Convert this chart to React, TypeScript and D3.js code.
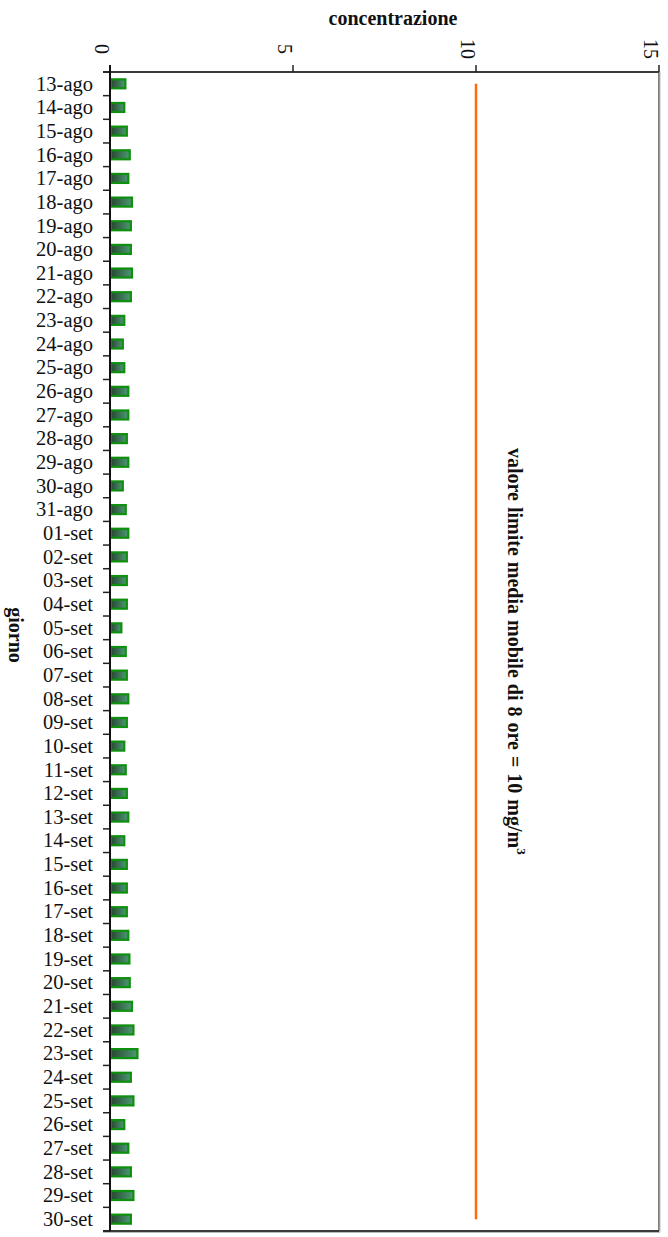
import React from "react";
import * as d3 from "d3";

const days: string[] = [
  "13-ago", "14-ago", "15-ago", "16-ago", "17-ago", "18-ago", "19-ago", "20-ago", "21-ago", "22-ago",
  "23-ago", "24-ago", "25-ago", "26-ago", "27-ago", "28-ago", "29-ago", "30-ago", "31-ago",
  "01-set", "02-set", "03-set", "04-set", "05-set", "06-set", "07-set", "08-set", "09-set", "10-set",
  "11-set", "12-set", "13-set", "14-set", "15-set", "16-set", "17-set", "18-set", "19-set", "20-set",
  "21-set", "22-set", "23-set", "24-set", "25-set", "26-set", "27-set", "28-set", "29-set", "30-set",
];

const concentrations: number[] = [
  0.42, 0.39, 0.46, 0.54, 0.50, 0.60, 0.57, 0.57, 0.60, 0.57,
  0.39, 0.35, 0.39, 0.50, 0.50, 0.46, 0.50, 0.35, 0.43,
  0.50, 0.46, 0.46, 0.46, 0.31, 0.43, 0.46, 0.50, 0.46, 0.39,
  0.43, 0.46, 0.50, 0.39, 0.46, 0.46, 0.46, 0.50, 0.53, 0.54,
  0.60, 0.64, 0.75, 0.57, 0.64, 0.39, 0.50, 0.57, 0.64, 0.57,
];

const xTicks: number[] = [0, 5, 10, 15];
const limitValue = 10;
const xTitle = "concentrazione";
const yTitle = "giorno";
const limitLabel = "valore limite media mobile di 8 ore = 10 mg/m";

const W = 668;
const H = 1237;
const left = 110;
const right = 659;
const top = 72;
const bottom = 1231;

export default function App() {
  const x = d3.scaleLinear().domain([0, 15]).range([left, right]);
  const y = d3.scaleBand<string>().domain(days).range([top, bottom]).padding(0);
  const bw = y.bandwidth();
  const barH = 9;
  const serif = "'Liberation Serif', 'Times New Roman', serif";

  return (
    <svg
      width={W}
      height={H}
      style={{ position: "absolute", left: 0, top: 0, display: "block", background: "#fff" }}
      fontFamily={serif}
    >
      <defs>
        <linearGradient id="barGrad" x1="0" y1="0" x2="1" y2="0">
          <stop offset="0%" stopColor="#2a4535" />
          <stop offset="100%" stopColor="#4a9a70" />
        </linearGradient>
      </defs>

      {/* frame */}
      <line x1={left - 7} x2={right} y1={top} y2={top} stroke="#3a3a3a" strokeWidth={2} />
      <line x1={right} x2={right} y1={top} y2={bottom} stroke="#555" strokeWidth={1.5} />
      <line x1={left - 7} x2={right} y1={bottom} y2={bottom} stroke="#3a3a3a" strokeWidth={2} />
      <line x1={right + 1} x2={right + 1} y1={top} y2={bottom + 1} stroke="#bbb" strokeWidth={1} />
      <line x1={left - 7} x2={right + 1} y1={bottom + 1.5} y2={bottom + 1.5} stroke="#bbb" strokeWidth={1} />

      {/* top ticks + labels */}
      {xTicks.map((t) => (
        <g key={t}>
          <line x1={x(t)} x2={x(t)} y1={top - 7} y2={top} stroke="#222" strokeWidth={1.5} />
          <text
            transform={`translate(${x(t) - 8},49) rotate(90)`}
            textAnchor="middle"
            dominantBaseline="central"
            fontSize={20}
            fill="#111"
          >
            {t}
          </text>
        </g>
      ))}

      {/* left ticks */}
      {d3.range(days.length + 1).map((i) => (
        <line
          key={i}
          x1={left - 7}
          x2={left}
          y1={top + i * bw}
          y2={top + i * bw}
          stroke="#222"
          strokeWidth={1.5}
        />
      ))}

      {/* category labels */}
      {days.map((d) => (
        <text
          key={d}
          x={93}
          y={(y(d) as number) + bw / 2}
          dy="0.33em"
          textAnchor="end"
          fontSize={20.5}
          fill="#111"
        >
          {d}
        </text>
      ))}

      {/* bars */}
      {days.map((d, i) => (
        <rect
          key={d}
          x={x(0) + 1}
          y={(y(d) as number) + bw / 2 - barH / 2}
          width={Math.max(0, x(concentrations[i]) - x(0) - 1)}
          height={barH}
          fill="url(#barGrad)"
          stroke="#0e8f0e"
          strokeWidth={2.2}
        />
      ))}

      {/* left axis */}
      <line x1={left} x2={left} y1={top - 7} y2={bottom} stroke="#111" strokeWidth={2} />

      {/* limit line */}
      <line
        x1={x(limitValue)}
        x2={x(limitValue)}
        y1={(y(days[0]) as number) + bw / 2}
        y2={(y(days[days.length - 1]) as number) + bw / 2}
        stroke="#ff6a10"
        strokeWidth={2.5}
      />

      {/* limit label */}
      <text
        transform={`translate(508,448) rotate(90)`}
        fontSize={20}
        fontWeight="bold"
        fill="#111"
        wordSpacing={1}
      >
        {limitLabel}
        <tspan fontSize={13} dy={-9}>3</tspan>
      </text>

      {/* titles */}
      <text x={393} y={25} textAnchor="middle" fontSize={20} fontWeight="bold" fill="#111">
        {xTitle}
      </text>
      <text
        transform={`translate(9,635) rotate(90)`}
        textAnchor="middle"
        fontSize={20}
        fontWeight="bold"
        fill="#111"
      >
        {yTitle}
      </text>
    </svg>
  );
}
